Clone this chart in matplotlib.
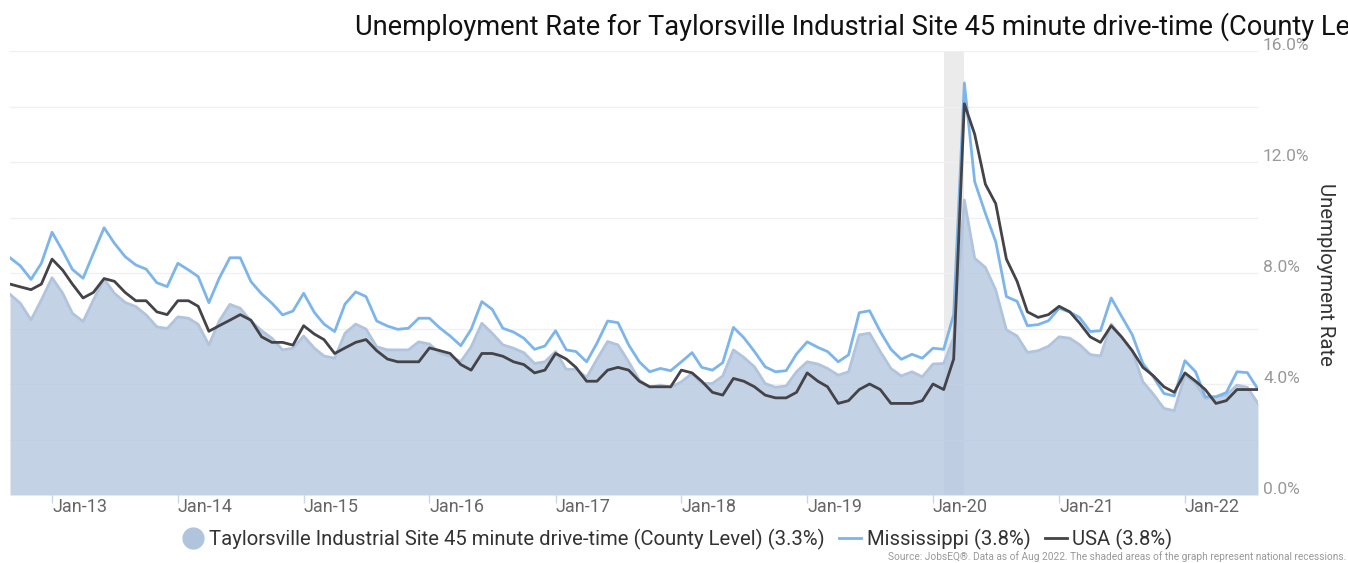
import numpy as np
import pandas as pd
import matplotlib
matplotlib.use("Agg")
import matplotlib.pyplot as plt
import matplotlib.transforms as mtransforms
from matplotlib.lines import Line2D

plt.rcParams['font.family'] = ['Roboto', 'DejaVu Sans']

# monthly data, Sep 2012 - Aug 2022
months = pd.date_range("2012-09-01", periods=120, freq="MS")

county = [
    7.23, 6.91, 6.31, 7.03, 7.83, 7.27, 6.55, 6.25, 7.03, 7.78, 7.27, 6.94,
    6.79, 6.49, 6.06, 6.00, 6.42, 6.37, 6.15, 5.41, 6.27, 6.87, 6.73, 6.27,
    5.92, 5.65, 5.23, 5.29, 5.73, 5.29, 5.01, 4.93, 5.83, 6.16, 5.98, 5.34,
    5.23, 5.23, 5.23, 5.52, 5.44, 5.11, 4.99, 4.81, 5.34, 6.19, 5.83, 5.41,
    5.29, 5.13, 4.74, 4.80, 5.17, 4.53, 4.53, 4.24, 4.89, 5.53, 5.41, 4.80,
    4.14, 3.88, 3.96, 3.88, 4.08, 4.38, 4.02, 4.02, 4.29, 5.23, 4.96, 4.62,
    4.02, 3.88, 3.93, 4.44, 4.80, 4.72, 4.56, 4.32, 4.44, 5.77, 5.83, 5.17,
    4.56, 4.29, 4.44, 4.26, 4.72, 4.74, 5.66, 10.63, 8.53, 8.20, 7.39, 5.95,
    5.73, 5.14, 5.20, 5.36, 5.70, 5.65, 5.42, 5.06, 5.01, 6.16, 5.69, 5.20,
    4.08, 3.64, 3.12, 3.04, 4.32, 4.02, 3.48, 3.54, 3.60, 3.96, 3.88, 3.30,
]

mississippi = [
    8.55, 8.26, 7.77, 8.35, 9.47, 8.79, 8.13, 7.81, 8.71, 9.63, 9.07, 8.59,
    8.29, 8.14, 7.65, 7.51, 8.35, 8.11, 7.87, 6.93, 7.81, 8.55, 8.55, 7.69,
    7.25, 6.91, 6.49, 6.63, 7.27, 6.58, 6.16, 5.89, 6.88, 7.32, 7.15, 6.27,
    6.09, 5.97, 6.01, 6.37, 6.37, 6.01, 5.73, 5.38, 5.97, 6.97, 6.69, 6.01,
    5.87, 5.65, 5.25, 5.37, 5.92, 5.23, 5.17, 4.80, 5.47, 6.27, 6.21, 5.41,
    4.80, 4.44, 4.56, 4.48, 4.80, 5.13, 4.60, 4.50, 4.77, 6.04, 5.67, 5.17,
    4.62, 4.44, 4.48, 5.08, 5.52, 5.32, 5.17, 4.80, 5.05, 6.57, 6.64, 5.89,
    5.25, 4.89, 5.07, 4.93, 5.29, 5.25, 6.50, 14.85, 11.29, 10.15, 9.13, 7.15,
    6.98, 6.10, 6.14, 6.28, 6.73, 6.59, 6.40, 5.89, 5.92, 7.10, 6.44, 5.78,
    4.74, 4.26, 3.66, 3.57, 4.84, 4.44, 3.54, 3.54, 3.69, 4.44, 4.41, 3.81,
]

usa = [
    7.6, 7.5, 7.4, 7.6,
    8.5, 8.1, 7.6, 7.1, 7.3, 7.8, 7.7, 7.3, 7.0, 7.0, 6.6, 6.5,
    7.0, 7.0, 6.8, 5.9, 6.1, 6.3, 6.5, 6.3, 5.7, 5.5, 5.5, 5.4,
    6.1, 5.8, 5.6, 5.1, 5.3, 5.5, 5.6, 5.2, 4.9, 4.8, 4.8, 4.8,
    5.3, 5.2, 5.1, 4.7, 4.5, 5.1, 5.1, 5.0, 4.8, 4.7, 4.4, 4.5,
    5.1, 4.9, 4.6, 4.1, 4.1, 4.5, 4.6, 4.5, 4.1, 3.9, 3.9, 3.9,
    4.5, 4.4, 4.1, 3.7, 3.6, 4.2, 4.1, 3.9, 3.6, 3.5, 3.5, 3.7,
    4.4, 4.1, 3.9, 3.3, 3.4, 3.8, 4.0, 3.8, 3.3, 3.3, 3.3, 3.4,
    4.0, 3.8, 4.9, 14.1, 13.0, 11.2, 10.5, 8.5, 7.7, 6.6, 6.4, 6.5,
    6.8, 6.6, 6.2, 5.7, 5.5, 6.1, 5.7, 5.2, 4.6, 4.3, 3.9, 3.7,
    4.4, 4.1, 3.8, 3.3, 3.4, 3.8, 3.8, 3.8,
]

recession = ("2020-02-01", "2020-04-01")
year_labels = ["Jan-13", "Jan-14", "Jan-15", "Jan-16", "Jan-17",
               "Jan-18", "Jan-19", "Jan-20", "Jan-21", "Jan-22"]
ytick_vals = [0, 4, 8, 12, 16]

W, H = 1348, 563
fig = plt.figure(figsize=(W / 100, H / 100), dpi=100)
ax = fig.add_axes([10 / W, 1 - 495 / H, 1248 / W, 444 / H])

ax.axvspan(pd.Timestamp(recession[0]), pd.Timestamp(recession[1]),
           color="#ebebeb", lw=0, zorder=0)

for g in np.arange(2, 17, 2):
    ax.axhline(g, color="#f0f0f0", lw=1, zorder=0.5)

ax.fill_between(months, county, 0, color="#b0c4de", alpha=0.75, lw=0, zorder=2)
ax.plot(months, county, color="#b0c4de", lw=2, zorder=2.5)
ax.plot(months, mississippi, color="#7cb5ec", lw=2, zorder=3)
ax.plot(months, usa, color="#434348", lw=2, zorder=4)

ax.set_xlim(months[0], months[-1])
ax.set_ylim(0, 16)
for s in ax.spines.values():
    s.set_visible(False)

jans = pd.date_range("2013-01-01", periods=len(year_labels), freq="YS")
ax.set_xticks(jans)
ax.set_xticklabels([])
ax.tick_params(axis="x", length=6, width=1, color="#ccd6eb", direction="out")
ax.set_yticks([])

trans_x = mtransforms.blended_transform_factory(ax.transData, fig.transFigure)
for d, lab in zip(jans, year_labels):
    ax.text(d, 1 - 507 / H, lab, transform=trans_x, ha="left", va="center",
            fontsize=13, color="#666666")

trans_y = mtransforms.blended_transform_factory(fig.transFigure, ax.transData)
for v in ytick_vals:
    ax.text(1263 / W, v + 0.03, f"{v:.1f}%", transform=trans_y, ha="left",
            va="baseline", fontsize=12.5, color="#999999")

fig.text(1325 / W, 1 - 274 / H, "Unemployment Rate", rotation=270,
         ha="center", va="center", fontsize=14.7, color="#333333")

fig.text(355 / W, 1 - 27 / H,
         "Unemployment Rate for Taylorsville Industrial Site 45 minute drive-time (County Level)",
         ha="left", va="center", fontsize=19.6, color="#111111")

handles = [
    Line2D([], [], ls="none", marker="o", markersize=15, color="#b0c4de"),
    Line2D([], [], color="#7cb5ec", lw=2),
    Line2D([], [], color="#434348", lw=2),
]
labels = [
    "Taylorsville Industrial Site 45 minute drive-time (County Level) (3.3%)",
    "Mississippi (3.8%)",
    "USA (3.8%)",
]
fig.legend(handles, labels, loc="center", bbox_to_anchor=(677 / W, 1 - 539 / H),
           ncol=3, frameon=False, fontsize=14.6, handlelength=1.1, handletextpad=0.25,
           columnspacing=0.7, labelcolor="#333333")

fig.text(1346 / W, 1 - 557 / H,
         "Source: JobsEQ\u00ae. Data as of Aug 2022. The shaded areas of the graph represent national recessions.",
         ha="right", va="center", fontsize=7.3, color="#999999")

fig.savefig("out.png", dpi=100)
